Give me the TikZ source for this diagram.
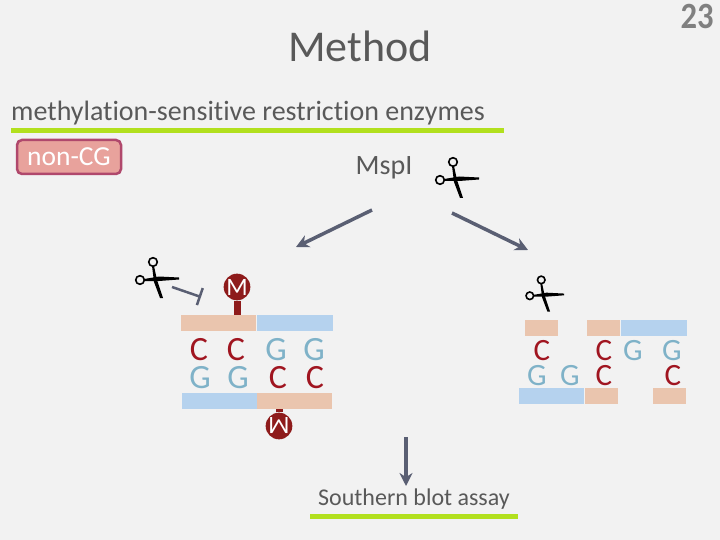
\documentclass[tikz,border=0pt]{standalone}
\usepackage{fontspec}
\setmainfont[Ligatures=CommonOff]{Carlito}
\usetikzlibrary{arrows.meta}
\definecolor{slidebg}{HTML}{F2F2F2}
\definecolor{textgrey}{HTML}{595959}
\definecolor{arrowgrey}{HTML}{5A5F73}
\definecolor{rulegreen}{HTML}{B2E01E}
\definecolor{strandorange}{HTML}{EAC5AE}
\definecolor{strandblue}{HTML}{B5D2EE}
\definecolor{baseC}{HTML}{A01520}
\definecolor{baseG}{HTML}{7FB2C8}
\definecolor{methylred}{HTML}{8E1B1B}
\definecolor{noncgborder}{HTML}{B0486C}
\definecolor{noncgfill}{HTML}{E8A29C}
\tikzset{
  txt/.style={text=textgrey, inner sep=0pt},
  base/.style={inner sep=0pt, font=\fontsize{34}{34}\selectfont},
  basec/.style={base, text=baseC},
  baseg/.style={base, text=baseG},
  smallc/.style={basec, font=\fontsize{31}{31}\selectfont},
  smallg/.style={baseg, font=\fontsize{31}{31}\selectfont},
  strand/.style={inner sep=0pt, minimum height=16pt, anchor=north west},
  orange/.style={strand, fill=strandorange},
  blue/.style={strand, fill=strandblue},
  rulebar/.style={draw=rulegreen, line width=5pt},
  cutarrow/.style={draw=arrowgrey, line width=3.5pt, -{Stealth[length=13pt,width=13pt]}},
  methyl/.style={circle, fill=methylred, text=white, inner sep=0pt, minimum size=25pt, font=\fontsize{25}{25}\selectfont},
  stick/.style={draw=methylred, line width=7pt},
  pics/scissors/.style={code={
    \fill (-11,1) -- (4,-1.5) -- (24,-0.5) -- (24,1.5) -- (4,3) -- (-11,3) -- cycle;
    \fill (-3,-12) -- (-1,-12) -- (2,2) -- (8,20) -- (5,20) -- (-1,4) -- cycle;
    \draw[line width=1.6pt] (-15,2) circle (4.3);
    \draw[line width=1.6pt] (-2,-16) circle (4.3);
  }},
}
\begin{document}
\begin{tikzpicture}[x=1pt, y=-1pt]
    % Background
    \fill[slidebg] (0,0) rectangle (720,540);
    \useasboundingbox (0,0) rectangle (720,540);

    % Headings
    \node[txt, font=\fontsize{44}{44}\selectfont] (title) at (360,46) {Method};
    \node[txt, xscale=0.88, transform shape, font=\fontsize{37}{37}\selectfont\bfseries, text=gray] (page) at (697,16) {23};
    \node[txt, anchor=west, font=\fontsize{28}{28}\selectfont] (enzymes) at (11,113) {methylation-sensitive restriction enzymes};
    \coordinate (ruleA) at (11,131);
    \coordinate (ruleB) at (504,131);
    \draw[rulebar] (ruleA) -- (ruleB);
    \node[draw=noncgborder, line width=2.5pt, fill=noncgfill, rounded corners=5pt, text=white, inner sep=0pt,
          minimum width=104pt, minimum height=34pt, font=\fontsize{27.5}{27.5}\selectfont] (noncg) at (69,157) {non-CG};
    \node[txt, font=\fontsize{28}{28}\selectfont] (mspi) at (384,168) {MspI};

    % Scissors
    \pic at (455,178) {scissors};
    \pic at (155,278) {scissors};
    \pic[scale=0.88] at (543,294) {scissors};

    % Arrows
    \coordinate (splitL) at (372,210);
    \coordinate (leftEnd) at (296,247);
    \coordinate (splitR) at (452,213);
    \coordinate (rightEnd) at (528,250);
    \coordinate (assayA) at (406,437);
    \coordinate (assayB) at (406,486);
    \coordinate (blockA) at (172,287);
    \coordinate (blockB) at (201,297);
    \draw[cutarrow] (splitL) -- (leftEnd);
    \draw[cutarrow] (splitR) -- (rightEnd);
    \draw[cutarrow] (assayA) -- (assayB);
    \draw[draw=arrowgrey, line width=2.5pt, -{Bar[width=18pt,length=2.5pt]}] (blockA) -- (blockB);

    % Left fragment
    \node[orange, minimum width=75pt] (topL1) at (181,315) {};
    \node[blue, minimum width=76pt] (topL2) at (257,315) {};
    \node[blue, minimum width=75pt] (botL1) at (182,393) {};
    \node[orange, minimum width=75pt] (botL2) at (257,393) {};
    \node[methyl] (mTop) at (237,287) {M};
    \node[methyl, rotate=180] (mBot) at (279,426) {M};
    \coordinate (topFoot) at (237,315);
    \coordinate (botFoot) at (279,409);
    \draw[stick] (mTop) -- (topFoot);
    \draw[stick] (mBot) -- (botFoot);
    \foreach \x/\s/\b in {199/basec/C,236/basec/C,276/baseg/G,314/baseg/G}
        \node[\s] (t\x) at (\x,349.5) {\b};
    \foreach \x/\s/\b in {200/baseg/G,238/baseg/G,278/basec/C,315/basec/C}
        \node[\s] (b\x) at (\x,377.5) {\b};

    % Right fragment
    \node[orange, minimum width=33pt] (topR1) at (525,320) {};
    \node[orange, minimum width=33pt] (topR2) at (587,320) {};
    \node[blue, minimum width=66pt] (topR3) at (621,320) {};
    \node[blue, minimum width=65pt] (botR1) at (519,388) {};
    \node[orange, minimum width=33pt] (botR2) at (585,388) {};
    \node[orange, minimum width=33pt] (botR3) at (653,388) {};
    \foreach \x/\s/\b in {542/smallc/C,604/smallc/C,633/smallg/G,672/smallg/G}
        \node[\s] (t\x) at (\x,351) {\b};
    \foreach \x/\s/\b in {537/smallg/G,570/smallg/G,604/smallc/C,673/smallc/C}
        \node[\s] (b\x) at (\x,375.5) {\b};

    % Assay
    \node[txt, font=\fontsize{24}{24}\selectfont] (southern) at (414,499) {Southern blot assay};
    \coordinate (ruleC) at (310,516);
    \coordinate (ruleD) at (518,516);
    \draw[rulebar] (ruleC) -- (ruleD);
\end{tikzpicture}
\end{document}
